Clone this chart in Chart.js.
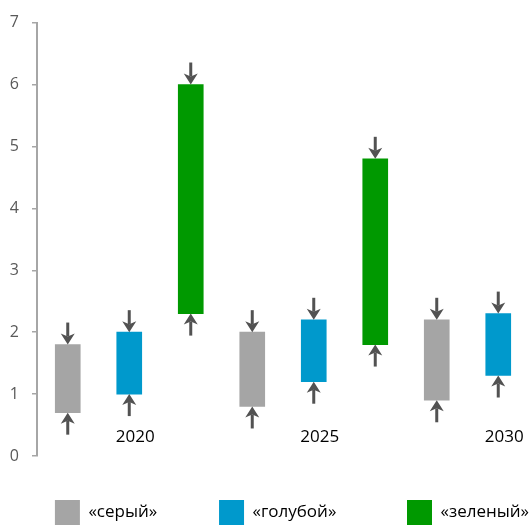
<!DOCTYPE html>
<html><head><meta charset="utf-8">
<script src="https://cdn.jsdelivr.net/npm/chart.js@4"></script>
<style>html,body{margin:0;padding:0;background:#fff}#wrap{width:532px;height:526px;position:relative}</style>
</head><body><div id="wrap"><canvas id="c"></canvas></div>
<script>
// ---- data ----
const categories = ['', '2020', '', '', '2025', '', '', '2030'];
const seriesNames = ['«серый»', '«голубой»', '«зеленый»'];
const seriesColors = ['#a5a5a5', '#0099cc', '#009900'];
const grayRanges  = [[0.7, 1.8], null, null, [0.8, 2.0], null, null, [0.9, 2.2], null];
const blueRanges  = [null, [1.0, 2.0], null, null, [1.2, 2.2], null, null, [1.3, 2.3]];
const greenRanges = [null, null, [2.3, 6.0], null, null, [1.8, 4.8], null, null];
const yMin = 0, yMax = 7, yStep = 1;

// style: trailing non-breaking spaces that space out the legend entries
const legendSpacing = [14, 16, 0];

const FONT = '"Open Sans", "Noto Sans", sans-serif';

function drawArrow(ctx, x, from, to) {
  const dir = Math.sign(to - from);
  const headLen = 11, half = 7, notch = 3;
  ctx.lineWidth = 3;
  ctx.beginPath();
  ctx.moveTo(x, from);
  ctx.lineTo(x, to - dir * (headLen - notch));
  ctx.stroke();
  ctx.beginPath();
  ctx.moveTo(x, to);
  ctx.lineTo(x - half, to - dir * headLen);
  ctx.lineTo(x, to - dir * (headLen - notch));
  ctx.lineTo(x + half, to - dir * headLen);
  ctx.closePath();
  ctx.fill();
}

const arrowPlugin = {
  id: 'rangeArrows',
  afterDatasetsDraw(chart) {
    const ctx = chart.ctx;
    ctx.save();
    ctx.fillStyle = '#525252';
    ctx.strokeStyle = '#525252';
    chart.data.datasets.forEach((ds, di) => {
      const meta = chart.getDatasetMeta(di);
      meta.data.forEach((bar, i) => {
        if (!ds.data[i]) return;
        const top = Math.min(bar.y, bar.base);
        const bottom = Math.max(bar.y, bar.base);
        drawArrow(ctx, bar.x, top - 22, top);
        drawArrow(ctx, bar.x, bottom + 22, bottom);
      });
    });
    ctx.restore();
  }
};

const rangeSets = [grayRanges, blueRanges, greenRanges];
const datasets = rangeSets.map((r, k) => ({
  label: seriesNames[k],
  data: r,
  backgroundColor: seriesColors[k],
  borderWidth: 0,
  barThickness: 25,
  grouped: false
}));

new Chart(document.getElementById('c'), {
  type: 'bar',
  data: { labels: categories, datasets },
  options: {
    responsive: true,
    maintainAspectRatio: false,
    animation: false,
    layout: { padding: { top: 17, right: 3, left: 0, bottom: -9 } },
    plugins: {
      tooltip: { enabled: false },
      legend: {
        position: 'bottom',
        align: 'end',
        labels: {
          boxWidth: 25,
          boxHeight: 25,
          padding: 0,
          color: '#000',
          font: { family: FONT, size: 17 },
          generateLabels(chart) {
            return chart.data.datasets.map((ds, i) => ({
              text: ds.label + '\u00a0'.repeat(legendSpacing[i]),
              fillStyle: ds.backgroundColor,
              strokeStyle: ds.backgroundColor,
              lineWidth: 0,
              hidden: false,
              datasetIndex: i
            }));
          }
        }
      }
    },
    scales: {
      x: {
        grid: { display: false },
        border: { display: false },
        ticks: {
          autoSkip: false,
          maxRotation: 0,
          mirror: true,
          padding: 9,
          labelOffset: 6,
          color: '#000',
          font: { family: FONT, size: 17 }
        },
        afterFit(s) { s.height = 44; }
      },
      y: {
        min: yMin,
        max: yMax,
        grid: { drawOnChartArea: false, drawTicks: true, tickLength: 5, color: '#a6a6a6', lineWidth: 1.5 },
        border: { display: true, color: '#a6a6a6', width: 2 },
        ticks: {
          stepSize: yStep,
          padding: 13,
          color: '#595959',
          font: { family: FONT, size: 16 }
        },
        afterFit(s) { s.width = 37; }
      }
    }
  },
  plugins: [arrowPlugin]
});
</script>
</body></html>
